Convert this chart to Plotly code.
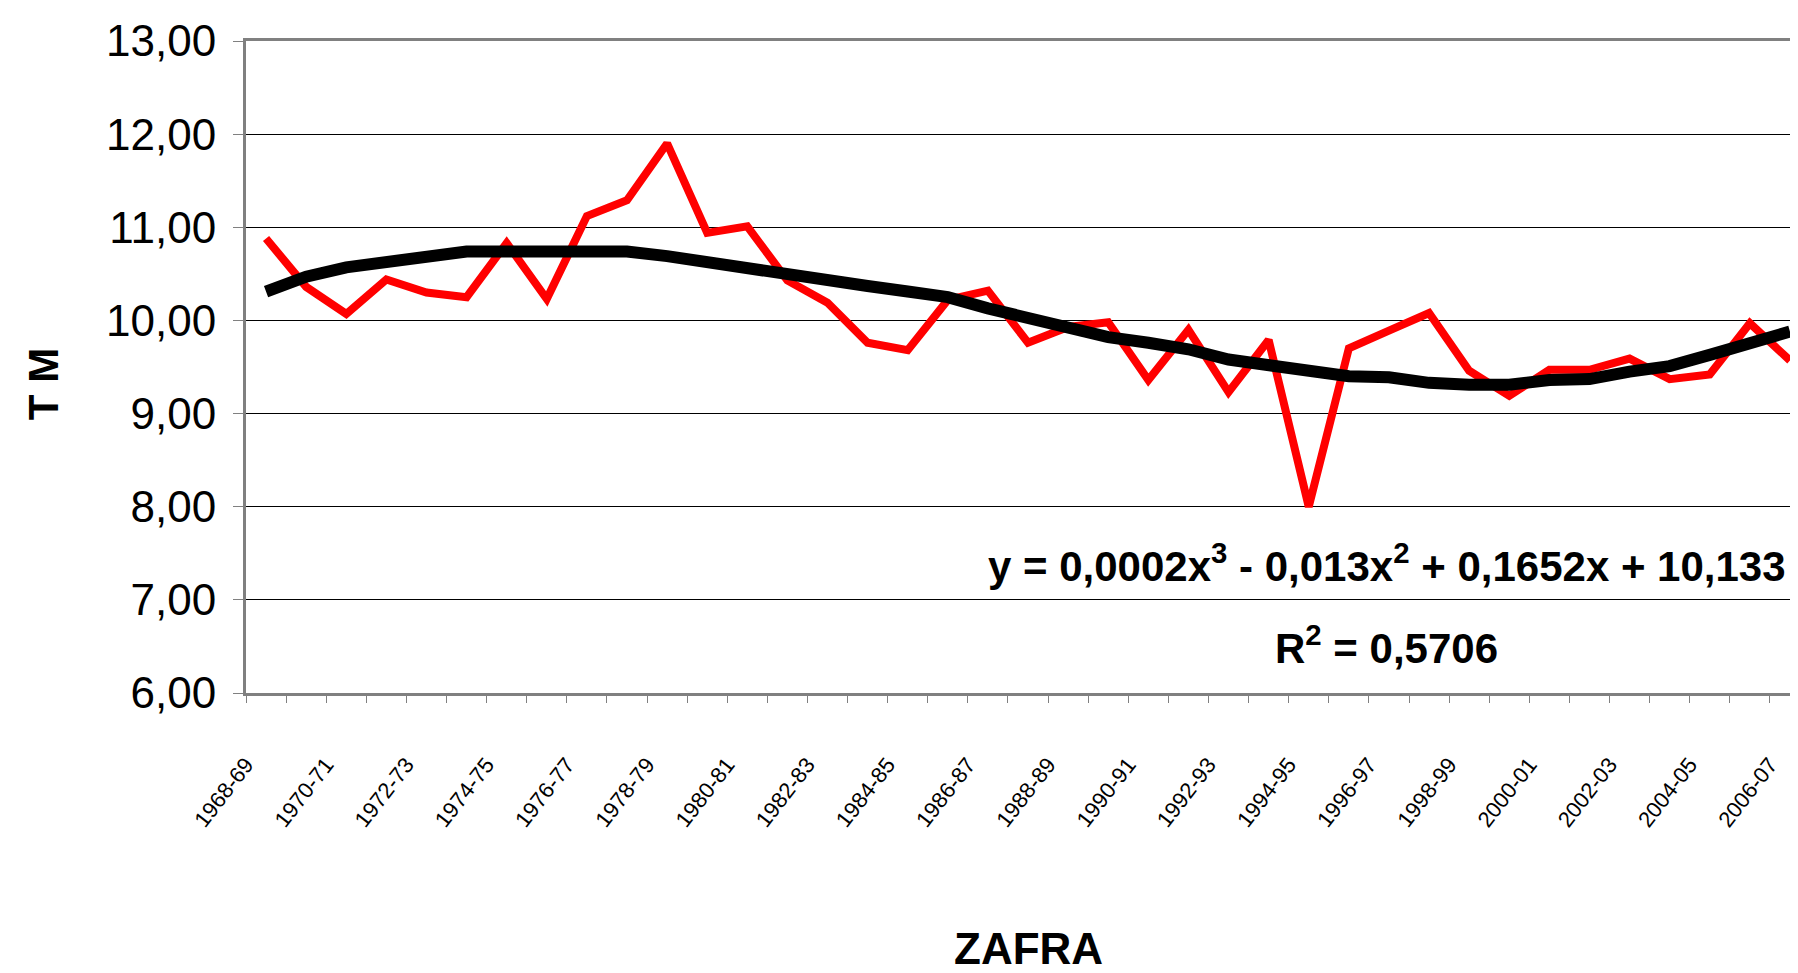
import plotly.graph_objects as go

# Zafras (seasons), one per category
zafras = [f"{y}-{str(y + 1)[-2:]}" for y in range(1968, 2007)]

# Rendimiento (TM) per zafra
tm_values = [
    10.88, 10.36, 10.07, 10.44, 10.30, 10.25, 10.83, 10.23, 11.12, 11.29,
    11.90, 10.94, 11.01, 10.43, 10.19, 9.76, 9.68, 10.22, 10.32, 9.76,
    9.93, 9.98, 9.36, 9.90, 9.23, 9.79, 8.00, 9.70, 9.89, 10.08,
    9.46, 9.19, 9.47, 9.47, 9.59, 9.37, 9.42, 9.97, 9.57,
]

# Polynomial trendline (order 3) as drawn on the chart
trend_values = [
    10.31, 10.47, 10.57, 10.62, 10.69, 10.74, 10.74, 10.74, 10.74, 10.74,
    10.69, 10.62, 10.57, 10.51, 10.44, 10.37, 10.31, 10.25, 10.13, 10.02,
    9.94, 9.82, 9.76, 9.69, 9.58, 9.51, 9.45, 9.40, 9.39, 9.33,
    9.31, 9.31, 9.36, 9.37, 9.45, 9.51, 9.63, 9.74, 9.88,
]

y_ticks = [6, 7, 8, 9, 10, 11, 12, 13]

equation_text = "y = 0,0002x<sup>3</sup> - 0,013x<sup>2</sup> + 0,1652x + 10,133"
r2_text = "R<sup>2</sup> = 0,5706"

FONT = "Liberation Sans, Arial"

x_idx = list(range(len(zafras)))

# Tick marks on category boundaries, labels on every second one
tick_vals = [i - 0.5 for i in x_idx]
tick_text = [zafras[i] if i % 2 == 0 else "" for i in x_idx]

fig = go.Figure()

fig.add_trace(
    go.Scatter(
        x=x_idx,
        y=tm_values,
        mode="lines",
        line=dict(color="#ff0000", width=8),
        showlegend=False,
    )
)

fig.add_trace(
    go.Scatter(
        x=x_idx,
        y=trend_values,
        mode="lines",
        line=dict(color="#000000", width=12),
        showlegend=False,
    )
)

fig.update_xaxes(
    range=[-0.5, 38.2],
    tickmode="array",
    tickvals=tick_vals,
    ticktext=tick_text,
    tickangle=-52,
    ticks="outside",
    ticklen=7,
    tickcolor="#808080",
    tickfont=dict(family=FONT, size=22, color="black"),
    ticklabelstandoff=40,
    showline=True,
    linecolor="#808080",
    linewidth=3,
    mirror=True,
    showgrid=False,
    zeroline=False,
    automargin=False,
)

fig.update_yaxes(
    range=[6, 13],
    tickmode="array",
    tickvals=y_ticks,
    tickformat=".2f",
    ticks="outside",
    ticklen=10,
    tickcolor="#808080",
    tickfont=dict(family=FONT, size=44, color="black"),
    ticklabelstandoff=8,
    showline=True,
    linecolor="#808080",
    linewidth=3,
    showgrid=True,
    gridcolor="#000000",
    gridwidth=1,
    zeroline=False,
    automargin=False,
)

# Axis titles
fig.add_annotation(
    x=-0.130, y=0.474, xref="paper", yref="paper",
    xanchor="center", yanchor="middle",
    text="<b>T M</b>", textangle=-90, showarrow=False,
    font=dict(family=FONT, size=42, color="black"),
)
fig.add_annotation(
    x=0.504, y=-0.392, xref="paper", yref="paper",
    xanchor="center", yanchor="middle",
    text="<b>ZAFRA</b>", showarrow=False,
    font=dict(family=FONT, size=44, color="black"),
)

# Trendline equation
fig.add_annotation(
    x=0.735, y=0.199, xref="paper", yref="paper",
    xanchor="center", yanchor="middle",
    text=f"<b>{equation_text}</b>", showarrow=False,
    font=dict(family=FONT, size=42, color="black"),
)
fig.add_annotation(
    x=0.735, y=0.074, xref="paper", yref="paper",
    xanchor="center", yanchor="middle",
    text=f"<b>{r2_text}</b>", showarrow=False,
    font=dict(family=FONT, size=42, color="black"),
)

# Page body has an 8px margin, so the figure is sized to fit the window
fig.update_layout(
    width=1790,
    height=965,
    margin=dict(l=238, r=0, t=33, b=280),
    paper_bgcolor="white",
    plot_bgcolor="white",
    separators=", ",
)

fig.write_html("out.html")
